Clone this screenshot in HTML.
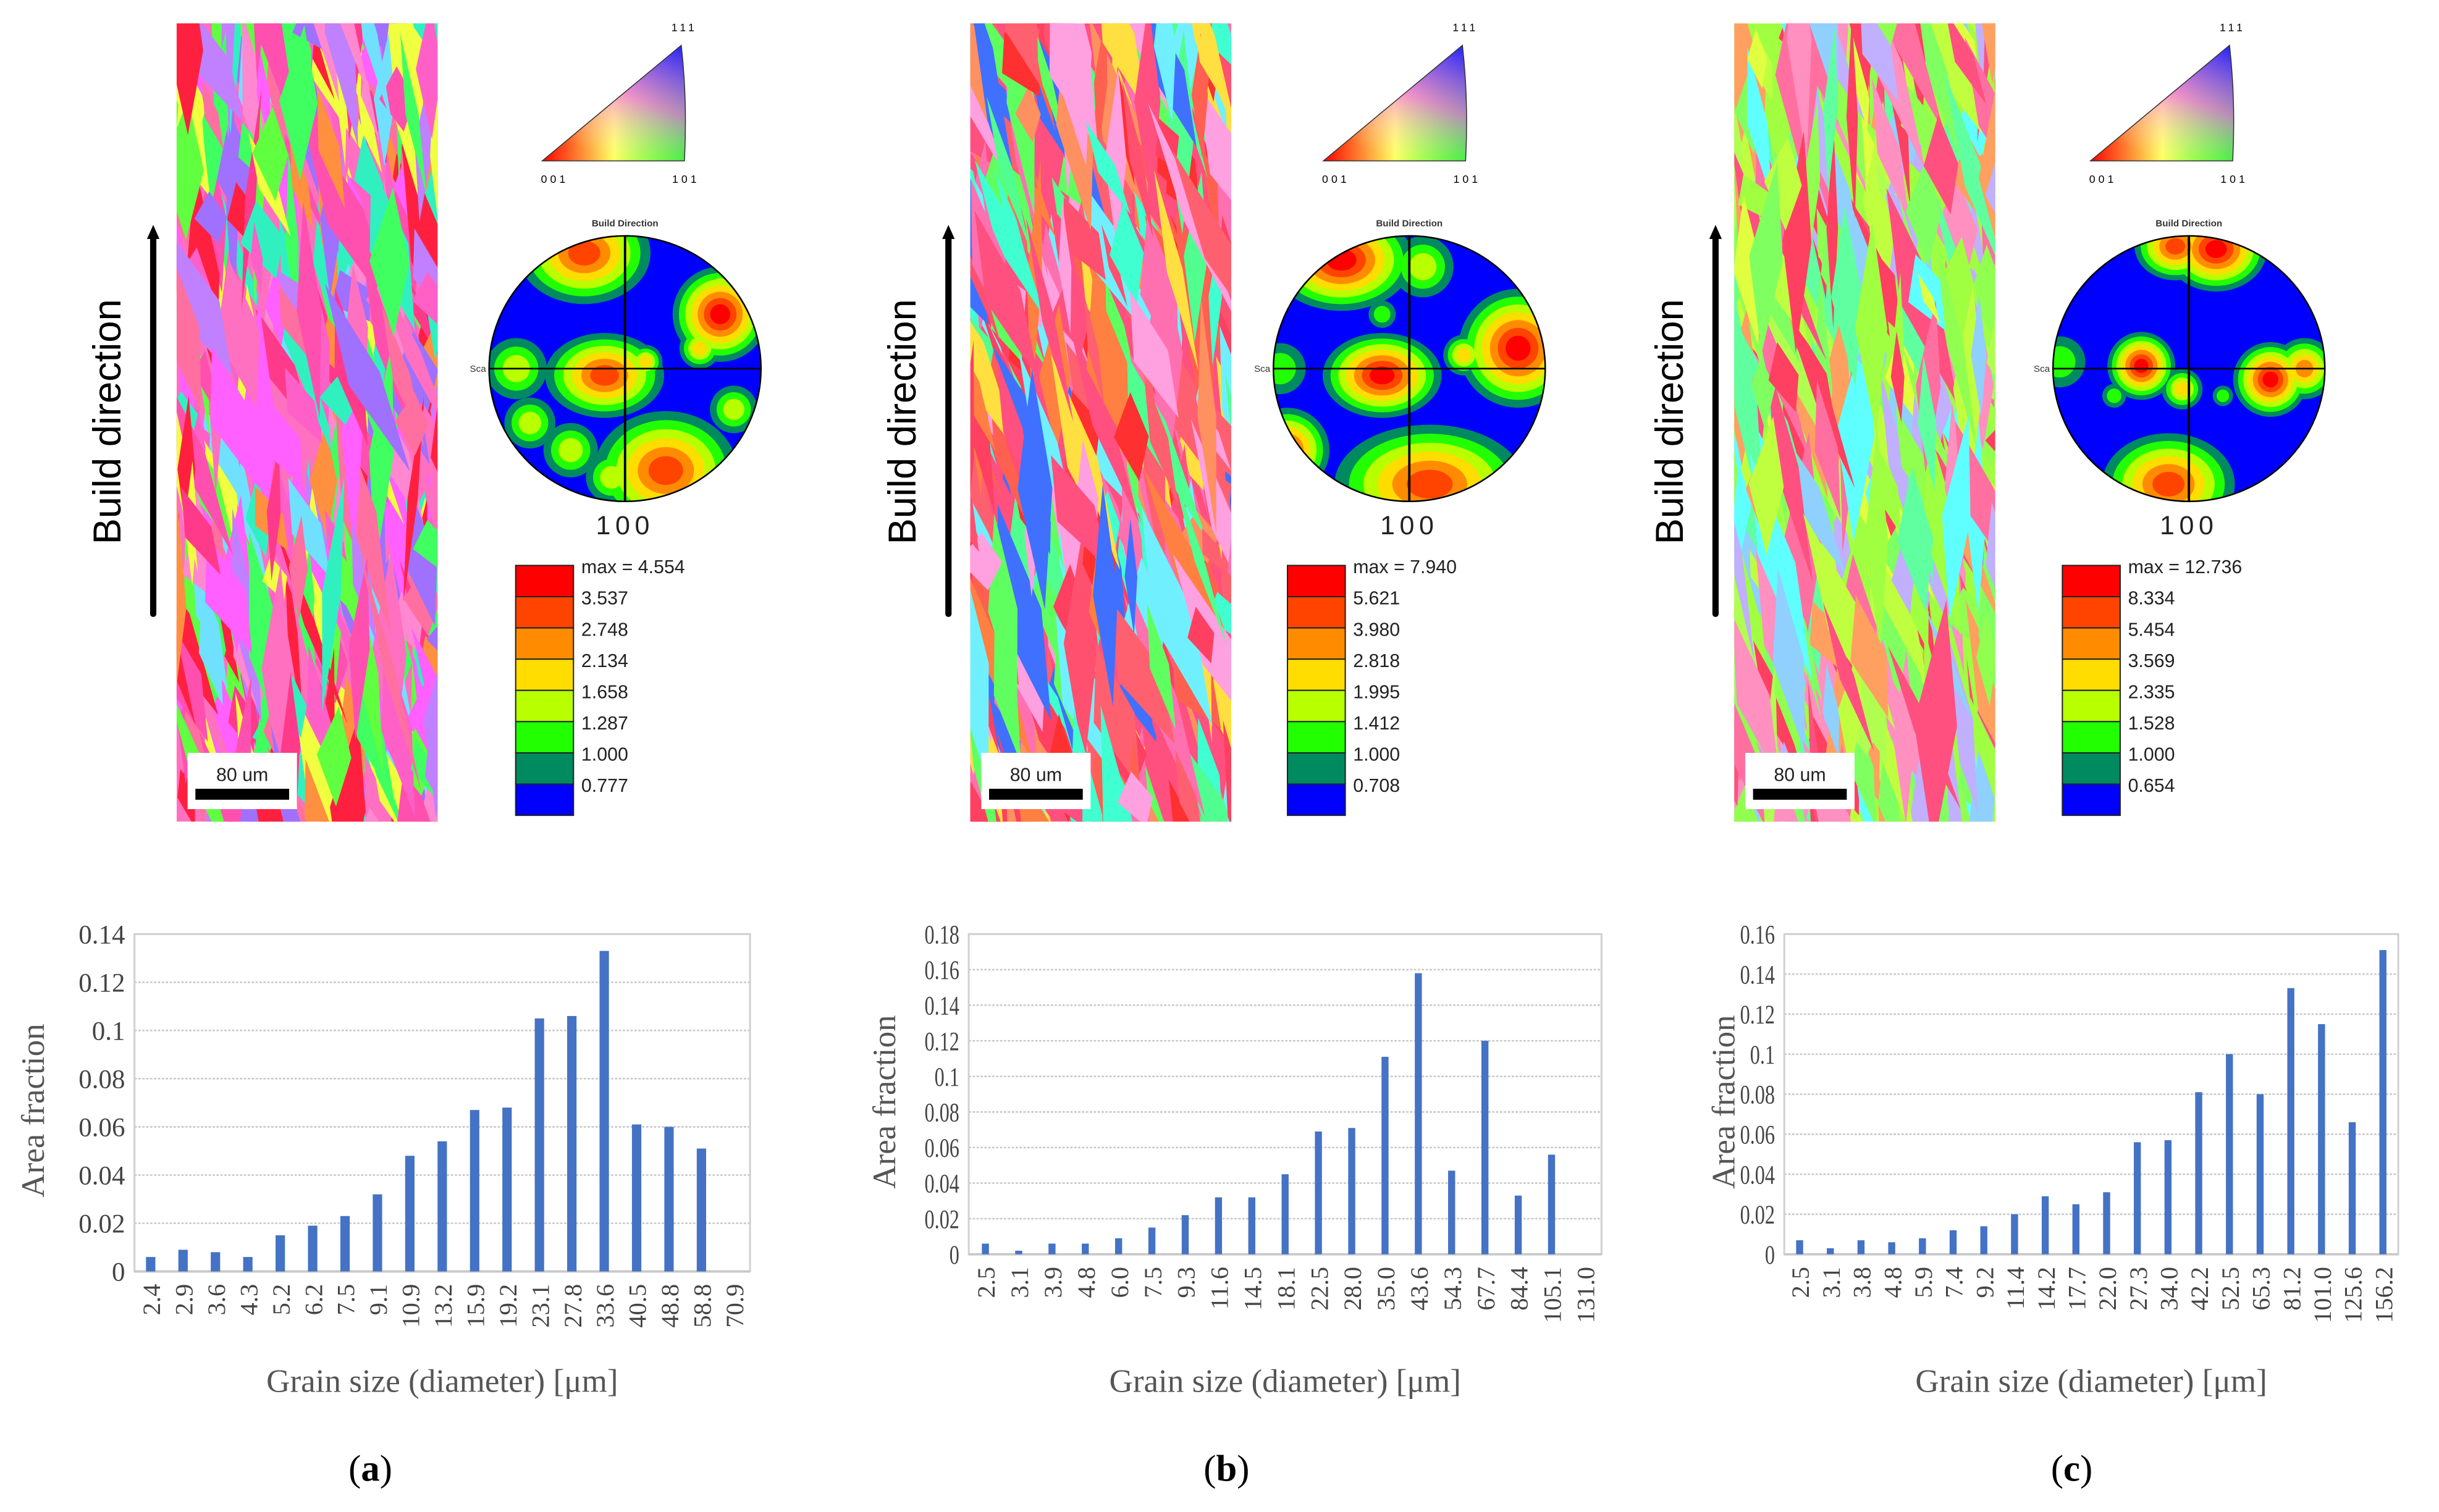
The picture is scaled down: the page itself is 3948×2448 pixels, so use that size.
<!DOCTYPE html>
<html><head><meta charset="utf-8"><style>
html,body{margin:0;padding:0;background:#fff;}
svg{display:block;}
</style></head><body>
<svg id="fig" xmlns="http://www.w3.org/2000/svg" width="3948" height="2448" viewBox="0 0 1561 968">
<defs>
<linearGradient id="ipfH" x1="0" y1="0" x2="1" y2="0"><stop offset="0" stop-color="#ff0000"/><stop offset="0.5" stop-color="#ffff60"/><stop offset="1" stop-color="#00ff00"/></linearGradient>
<linearGradient id="ipfV" x1="0.5" y1="1" x2="1" y2="0"><stop offset="0" stop-color="#ffffff" stop-opacity="0"/><stop offset="0.5" stop-color="#ff60ff" stop-opacity="0.7"/><stop offset="1" stop-color="#2020ff" stop-opacity="1"/></linearGradient>
</defs>
<g id="root"></g>
</svg>
<script>
// ---------- chart data ----------
const catsA = ["2.4","2.9","3.6","4.3","5.2","6.2","7.5","9.1","10.9","13.2","15.9","19.2","23.1","27.8","33.6","40.5","48.8","58.8","70.9"];
const valsA = [0.006,0.009,0.008,0.006,0.015,0.019,0.023,0.032,0.048,0.054,0.067,0.068,0.105,0.106,0.133,0.061,0.060,0.051,0];
const ticksA = ["0","0.02","0.04","0.06","0.08","0.1","0.12","0.14"];
const catsB = ["2.5","3.1","3.9","4.8","6.0","7.5","9.3","11.6","14.5","18.1","22.5","28.0","35.0","43.6","54.3","67.7","84.4","105.1","131.0"];
const valsB = [0.006,0.002,0.006,0.006,0.009,0.015,0.022,0.032,0.032,0.045,0.069,0.071,0.111,0.158,0.047,0.120,0.033,0.056,0];
const ticksB = ["0","0.02","0.04","0.06","0.08","0.1","0.12","0.14","0.16","0.18"];
const catsC = ["2.5","3.1","3.8","4.8","5.9","7.4","9.2","11.4","14.2","17.7","22.0","27.3","34.0","42.2","52.5","65.3","81.2","101.0","125.6","156.2"];
const valsC = [0.007,0.003,0.007,0.006,0.008,0.012,0.014,0.020,0.029,0.025,0.031,0.056,0.057,0.081,0.100,0.080,0.133,0.115,0.066,0.152];
const ticksC = ["0","0.02","0.04","0.06","0.08","0.1","0.12","0.14","0.16"];
const legendA = ["max = 4.554","3.537","2.748","2.134","1.658","1.287","1.000","0.777"];
const legendB = ["max = 7.940","5.621","3.980","2.818","1.995","1.412","1.000","0.708"];
const legendC = ["max = 12.736","8.334","5.454","3.569","2.335","1.528","1.000","0.654"];

const NS="http://www.w3.org/2000/svg";
const root=document.getElementById('root');
function mk(tag,attrs,parent,txt){const e=document.createElementNS(NS,tag);for(const k in attrs)e.setAttribute(k,attrs[k]);if(txt!==undefined)e.textContent=txt;(parent||root).appendChild(e);return e;}

let seed=12345;function rnd(){seed=(seed*1103515245+12345)%2147483648;return seed/2147483648;}

const levelCols=["#0000ff","#008a60","#22ff00","#b8ff00","#ffdd00","#ff8c00","#ff4400","#ff0000"];

function ebsd(g,x,y,w,h,palette,n,id,tilt){
  const cp=mk('clipPath',{id:'clip'+id},g);mk('rect',{x:x,y:y,width:w,height:h},cp);
  const gg=mk('g',{'clip-path':'url(#clip'+id+')'},g);
  mk('rect',{x:x,y:y,width:w,height:h,fill:palette[0]},gg);
  for(let i=0;i<n;i++){
    const cx=x-10+rnd()*(w+20), cy=y-20+rnd()*(h+40);
    const len=30+rnd()*130, wid=6+rnd()*22;
    const ang=(-90+tilt+(rnd()-0.5)*30)*Math.PI/180;
    const dx=Math.cos(ang)*len/2, dy=Math.sin(ang)*len/2, px=-Math.sin(ang)*wid/2, py=Math.cos(ang)*wid/2;
    const pts=[[cx-dx+px*0.4,cy-dy+py*0.4],[cx+px,cy+py],[cx+dx,cy+dy],[cx-px,cy-py]].map(p=>p.map(v=>v.toFixed(1)).join(',')).join(' ');
    mk('polygon',{points:pts,fill:palette[Math.floor(rnd()*palette.length)]},gg);
  }
}

function panel(ox,opts){
  const g=mk('g',{}); 
  const ar=mk('g',{},g);
  mk('line',{x1:ox+98,y1:393,x2:ox+98,y2:152,stroke:'#000','stroke-width':4,'stroke-linecap':'round'},ar);
  mk('polygon',{points:`${ox+94},153 ${ox+102},153 ${ox+98},144`,fill:'#000'},ar);
  const bl=mk('text',{x:0,y:0,transform:`translate(${ox+77},270) rotate(-90)`,'text-anchor':'middle','font-family':'Liberation Sans, sans-serif','font-size':25,fill:'#000'},g,'Build direction');
  
  const m=mk('g',{},g);
  ebsd(m,ox+opts.mx,15,167,511,opts.pal,opts.n,opts.id,opts.tilt);
  const sb=mk('g',{},g);
  mk('rect',{x:ox+opts.mx+7,y:482,width:70,height:36,fill:'#fff'},sb);
  mk('text',{x:ox+opts.mx+42,y:500,'text-anchor':'middle','font-family':'Liberation Sans, sans-serif','font-size':12,fill:'#222'},sb,'80 um');
  mk('rect',{x:ox+opts.mx+12,y:505,width:60,height:7,fill:'#000'},sb);
  const tri=mk('g',{},g);
  const t0=ox+opts.tx;
  const path=`M${t0},103 L${t0+91},103 Q${t0+93},65 ${t0+89},29 Z`;
  mk('path',{d:path,fill:'url(#ipfH)'},tri);mk('path',{d:path,fill:'url(#ipfV)',stroke:'#333','stroke-width':0.6},tri);
  mk('text',{x:t0+91,y:20,'text-anchor':'middle','font-family':'Liberation Sans, sans-serif','font-size':7,'letter-spacing':2},tri,'111');
  mk('text',{x:t0+8,y:117,'text-anchor':'middle','font-family':'Liberation Sans, sans-serif','font-size':7,'letter-spacing':2},tri,'001');
  mk('text',{x:t0+92,y:117,'text-anchor':'middle','font-family':'Liberation Sans, sans-serif','font-size':7,'letter-spacing':2},tri,'101');
  const pf=mk('g',{},g);
  const cx=ox+opts.pcx,cy=236,R=87;
  mk('text',{x:cx,y:145,'text-anchor':'middle','font-family':'Liberation Sans, sans-serif','font-size':6,'font-weight':'bold',fill:'#333'},pf,'Build Direction');
  const cpp=mk('clipPath',{id:'pc'+opts.id},pf);mk('ellipse',{cx:cx,cy:cy,rx:R,ry:R-2},cpp);
  const pg=mk('g',{'clip-path':`url(#pc${opts.id})`},pf);
  mk('rect',{x:cx-R,y:cy-R,width:2*R,height:2*R,fill:levelCols[0]},pg);
  for(let lv=1;lv<8;lv++){
    opts.blobs.forEach(b=>{ if(b[3]>=lv){const r=1.25*R*b[2]*(1-(lv-1)/(b[3]+0.6));mk('ellipse',{cx:cx+b[0]*R,cy:cy+b[1]*R,rx:r*(b[4]||1),ry:r,fill:levelCols[lv]},pg);} });
  }
  mk('ellipse',{cx:cx,cy:cy,rx:R,ry:R-2,fill:'none',stroke:'#000','stroke-width':1},pf);
  mk('line',{x1:cx-R,y1:cy,x2:cx+R,y2:cy,stroke:'#000','stroke-width':1},pf);
  mk('line',{x1:cx,y1:cy-R+2,x2:cx,y2:cy+R-2,stroke:'#000','stroke-width':1.5},pf);
  mk('text',{x:cx-R-2,y:cy+2,'text-anchor':'end','font-family':'Liberation Sans, sans-serif','font-size':6,fill:'#333'},pf,'Sca');
  mk('text',{x:cx,y:cy+106,'text-anchor':'middle','font-family':'Liberation Sans, sans-serif','font-size':17,'letter-spacing':3,fill:'#222'},pf,'100');
  const lg=mk('g',{},g);
  const lx=ox+opts.lx;
  opts.legend.forEach((s,i)=>{
    const r=mk('rect',{x:lx,y:362+i*20,width:37,height:20,fill:levelCols[7-i],stroke:'#222','stroke-width':0.8},lg);
    
    const t=mk('text',{x:lx+42,y:367+i*20,'font-family':'Liberation Sans, sans-serif','font-size':12,fill:'#222'},lg,s);
    
  });
}

function chart(opts){
  const g=mk('g',{});
  const {x0,x1,yTop,yBot,max,cats,vals,ticks}=opts;
  const ys=v=>yBot-(v/max)*(yBot-yTop);
  const step=(x1-x0)/cats.length;
  const xs=i=>x0+step*(i+0.5);
  ticks.forEach(t=>{const v=parseFloat(t);const y=ys(v);
    if(v>0&&v<max){const gl=mk('line',{x1:x0,y1:y,x2:x1,y2:y,stroke:'#c8c8c8','stroke-width':1,'stroke-dasharray':'1.5,1'},g);}
    const tl=mk('text',{x:0,y:0,transform:`translate(${x0-6},${y+6}) scale(${opts.sx},1)`,'text-anchor':'end','font-family':'Liberation Serif, serif','font-size':opts.tfs,fill:'#444'},g,t);
    
  });
  mk('rect',{x:x0,y:yTop,width:x1-x0,height:yBot-yTop,fill:'none',stroke:'#d0d0d0','stroke-width':1.2},g);
  mk('line',{x1:x0,y1:yBot,x2:x1,y2:yBot,stroke:'#c8c8c8','stroke-width':1.5},g);
  vals.forEach((v,i)=>{
    if(v<=0)return;
    const b=mk('rect',{x:xs(i)-opts.bw/2,y:ys(v),width:opts.bw,height:yBot-ys(v),fill:'#4472c4'},g);
    
  });
  cats.forEach((c,i)=>{
    const t=mk('text',{x:0,y:0,transform:`translate(${xs(i)+6},${yBot+8}) rotate(-90)`,'text-anchor':'end','font-family':'Liberation Serif, serif','font-size':16,fill:'#444'},g,c);
    
  });
  const yt=mk('text',{x:0,y:0,transform:`translate(${opts.ytx},${(yTop+yBot)/2+5}) rotate(-90)`,'text-anchor':'middle','font-family':'Liberation Serif, serif','font-size':21,fill:'#555'},g,'Area fraction');
  
  const xt=mk('text',{x:(x0+x1)/2,y:891,'text-anchor':'middle','font-family':'Liberation Serif, serif','font-size':21,fill:'#555'},g,'Grain size (diameter) [μm]');
  
  const cap=mk('text',{x:opts.capx,y:948,'text-anchor':'middle','font-family':'Liberation Serif, serif','font-size':24,fill:'#000'},g);
  
  mk('tspan',{},cap,'(');mk('tspan',{'font-weight':'bold'},cap,opts.id);mk('tspan',{},cap,')');
}

panel(0,{id:'a',mx:113,tx:347,pcx:400,lx:330,n:450,tilt:-8,legend:legendA,
  pal:['#ff70c0','#ff50b0','#ff3a8a','#ff88d0','#ff60c8','#40ff60','#30f0c0','#a070ff','#c080ff','#ff9040','#f0ff40','#70e0ff','#ff2040','#ff60ff','#60ff40','#ff70a0'],
  blobs:[[-0.3,-0.85,0.3,6,1.3],[0.7,-0.4,0.28,7],[0.55,-0.15,0.12,4],[-0.15,0.05,0.25,6,1.4],[0.15,-0.05,0.1,4],[-0.8,0,0.18,3],[-0.7,0.4,0.15,3],[-0.4,0.6,0.16,3],[0.3,0.75,0.35,6,1.2],[0.8,0.3,0.14,3],[-0.1,0.8,0.15,3],[0.7,-0.6,0.12,3]]});
panel(509,{id:'b',mx:112,tx:338,pcx:393,lx:315,n:400,tilt:-10,legend:legendB,
  pal:['#ff5080','#ff4060','#ff6050','#ff70b0','#ff8040','#ff5070','#50ff90','#40ffd0','#70f0ff','#4070ff','#ff9060','#ffa0e0','#ffe040','#ff3030','#60ff60','#ff6070'],
  blobs:[[-0.5,-0.8,0.3,7,1.4],[0.1,-0.75,0.18,3],[0.8,-0.15,0.35,7],[0.4,-0.1,0.12,4],[-0.2,0.05,0.25,7,1.4],[-0.95,0,0.15,2],[-0.9,0.6,0.25,6],[0.15,0.85,0.35,6,1.6],[-0.2,0.8,0.15,2],[-0.2,-0.4,0.08,2]]});
panel(1000,{id:'c',mx:110,tx:338,pcx:401,lx:320,n:400,tilt:-8,legend:legendC,
  pal:['#a0ff40','#b0ff50','#80ff60','#c0ff40','#90ff50','#60ffa0','#ff70a0','#ff5080','#60ffff','#90d0ff','#ffa060','#c0b0ff','#ff4060','#e0ff40','#ff90c0'],
  blobs:[[-0.1,-0.9,0.2,6,1.2],[0.2,-0.88,0.25,7,1.2],[-0.35,-0.02,0.2,7],[-0.05,0.15,0.12,4],[0.6,0.08,0.22,7],[0.85,0.0,0.18,5],[-0.95,-0.05,0.15,2],[-0.55,0.2,0.07,2],[0.25,0.2,0.06,2],[-0.15,0.85,0.3,6,1.3]]});

chart({id:'a',x0:86,x1:480,yTop:598,yBot:814,max:0.14,cats:catsA,vals:valsA,ticks:ticksA,bw:6,ytx:28,capx:237,tfs:17,sx:1});
chart({id:'b',x0:620,x1:1025,yTop:598,yBot:803,max:0.18,cats:catsB,vals:valsB,ticks:ticksB,bw:4.5,ytx:573,capx:785,tfs:17,sx:0.75});
chart({id:'c',x0:1142,x1:1535,yTop:598,yBot:803,max:0.16,cats:catsC,vals:valsC,ticks:ticksC,bw:4.5,ytx:1110,capx:1326,tfs:17,sx:0.75});
</script>
</body></html>
